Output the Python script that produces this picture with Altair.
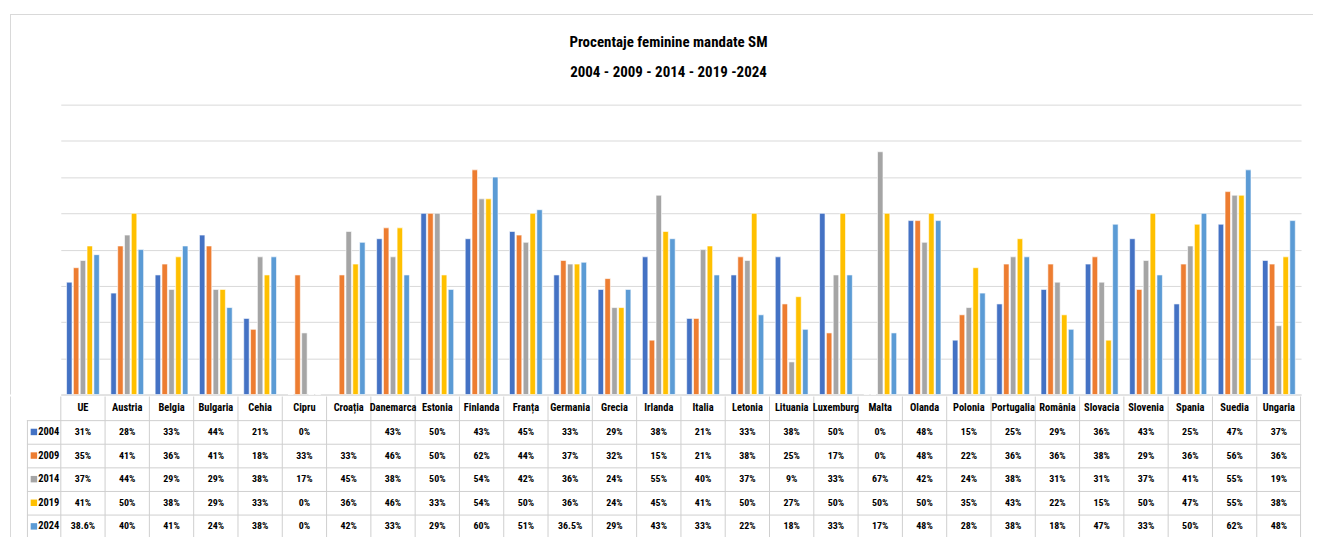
import altair as alt
import pandas as pd

countries = ["UE", "Austria", "Belgia", "Bulgaria", "Cehia", "Cipru", "Croația", "Danemarca",
             "Estonia", "Finlanda", "Franța", "Germania", "Grecia", "Irlanda", "Italia", "Letonia",
             "Lituania", "Luxemburg", "Malta", "Olanda", "Polonia", "Portugalia", "România",
             "Slovacia", "Slovenia", "Spania", "Suedia", "Ungaria"]
years = ["2004", "2009", "2014", "2019", "2024"]
v2004 = [31, 28, 33, 44, 21, 0, None, 43, 50, 43, 45, 33, 29, 38, 21, 33, 38, 50, 0, 48, 15, 25, 29, 36, 43, 25, 47, 37]
v2009 = [35, 41, 36, 41, 18, 33, 33, 46, 50, 62, 44, 37, 32, 15, 21, 38, 25, 17, 0, 48, 22, 36, 36, 38, 29, 36, 56, 36]
v2014 = [37, 44, 29, 29, 38, 17, 45, 38, 50, 54, 42, 36, 24, 55, 40, 37, 9, 33, 67, 42, 24, 38, 31, 31, 37, 41, 55, 19]
v2019 = [41, 50, 38, 29, 33, 0, 36, 46, 33, 54, 50, 36, 24, 45, 41, 50, 27, 50, 50, 50, 35, 43, 22, 15, 50, 47, 55, 38]
v2024 = [38.6, 40, 41, 24, 38, 0, 42, 33, 29, 60, 51, 36.5, 29, 43, 33, 22, 18, 33, 17, 48, 28, 38, 18, 47, 33, 50, 62, 48]
colors = ["#4472C4", "#ED7D31", "#A5A5A5", "#FFC000", "#5B9BD5"]
title_lines = ["Procentaje feminine mandate SM", "2004 - 2009 - 2014 - 2019 -2024"]

FONT = "Liberation Sans Narrow, Arial Narrow, Roboto Condensed, Liberation Sans, sans-serif"
GRID = "#D9D9D9"
TGRID = "#CFCFCF"
FRAME = "#D9D9D9"
W = 1245
H = 291
ROW = 23.7
LEFT = 34
FRAME_L = 51     # frame left edge, px left of plot
FRAME_T = 91     # frame top edge, px above plot
FRAME_R = 12     # frame extends right of plot


def fmt(v):
    if v is None:
        return ""
    if float(v).is_integer():
        return f"{int(v)}%"
    return f"{v}%"


rows = []
for yr, vals in zip(years, [v2004, v2009, v2014, v2019, v2024]):
    for c, v in zip(countries, vals):
        rows.append({"country": c, "year": yr, "value": v, "label": fmt(v)})
df = pd.DataFrame(rows)

hdr = pd.DataFrame({"country": countries, "year": ["hdr"] * len(countries), "label": countries})
row_domain = ["hdr"] + years
one = pd.DataFrame({"a": [0]})

xscale = alt.Scale(domain=countries, paddingInner=0.26, paddingOuter=0.13)

bar_layer = alt.Chart(df).mark_bar(stroke="white", strokeWidth=0.6).encode(
    x=alt.X("country:N", sort=countries, scale=xscale,
            axis=alt.Axis(title=None, labels=False, ticks=False, domain=True, domainColor=GRID, grid=False)),
    xOffset=alt.XOffset("year:N", sort=years, scale=alt.Scale(domain=years, paddingInner=0.2)),
    y=alt.Y("value:Q", scale=alt.Scale(domain=[0, 80]),
            axis=alt.Axis(title=None, labels=False, ticks=False, domain=False,
                          values=[0, 10, 20, 30, 40, 50, 60, 70, 80], grid=True, gridColor=GRID)),
    color=alt.Color("year:N", scale=alt.Scale(domain=years, range=colors), legend=None),
)
frame_top = alt.Chart(one).mark_rule(color=FRAME, yOffset=0.5).encode(
    x=alt.value(-FRAME_L), x2=alt.value(W + FRAME_R), y=alt.value(-FRAME_T))
frame_left1 = alt.Chart(one).mark_rule(color=FRAME, xOffset=0.5).encode(
    x=alt.value(-FRAME_L), y=alt.value(-FRAME_T), y2=alt.value(H))
title1 = alt.Chart(pd.DataFrame({"t": [title_lines[0]]})).mark_text(
    font=FONT, fontSize=15, fontWeight="bold", color="black", align="center", baseline="middle").encode(
    x=alt.value(610), y=alt.value(-63), text="t:N")
title2 = alt.Chart(pd.DataFrame({"t": [title_lines[1]]})).mark_text(
    font=FONT, fontSize=15, fontWeight="bold", color="black", align="center", baseline="middle").encode(
    x=alt.value(610), y=alt.value(-33), text="t:N")
bars = alt.layer(bar_layer, frame_top, frame_left1, title1, title2).properties(width=W, height=H)

tscale_x = alt.Scale(domain=countries, paddingInner=0, paddingOuter=0)
tscale_y = alt.Scale(domain=row_domain, paddingInner=0, paddingOuter=0)
noaxis = alt.Axis(title=None, labels=False, ticks=False, domain=False, grid=False)
tx = alt.X("country:N", sort=countries, scale=tscale_x, axis=noaxis)
ty = alt.Y("year:N", scale=tscale_y, axis=noaxis)

head_text = alt.Chart(hdr).mark_text(font=FONT, fontSize=10.5, fontWeight="bold", color="black").encode(
    x=tx, y=ty, text="label:N")
val_text = alt.Chart(df).mark_text(font=FONT, fontSize=10, fontWeight="bold", color="black").encode(
    x=tx, y=ty, text="label:N")

yrdf = pd.DataFrame({"year": years})
swatch = alt.Chart(yrdf).mark_square(size=42, opacity=1).encode(
    x=alt.value(-27), y=ty,
    color=alt.Color("year:N", scale=alt.Scale(domain=years, range=colors), legend=None))
yrlab = alt.Chart(yrdf).mark_text(font=FONT, fontSize=10.5, fontWeight="bold", color="black").encode(
    x=alt.value(-12), y=ty, text="year:N")

# table borders
cdf = pd.DataFrame({"country": countries})
vlines = alt.Chart(cdf).mark_rule(color=TGRID).encode(
    x=alt.X("country:N", sort=countries, scale=tscale_x, axis=noaxis, bandPosition=0),
    y=alt.value(0), y2=alt.value(ROW * 6))
hlines = alt.Chart(yrdf).mark_rule(color=TGRID, yOffset=0.5).encode(
    x=alt.value(-LEFT), x2=alt.value(W),
    y=alt.Y("year:N", bandPosition=0, scale=tscale_y, axis=noaxis))
bottom = alt.Chart(pd.DataFrame({"year": ["2024"]})).mark_rule(color=TGRID, yOffset=-0.5).encode(
    x=alt.value(-LEFT), x2=alt.value(W),
    y=alt.Y("year:N", bandPosition=1, scale=tscale_y, axis=noaxis))
right = alt.Chart(one).mark_rule(color=TGRID, xOffset=-0.5).encode(
    x=alt.value(W), y=alt.value(0), y2=alt.value(ROW * 6))
leftline = alt.Chart(one).mark_rule(color=TGRID, xOffset=0.5).encode(
    x=alt.value(-LEFT), y=alt.value(ROW), y2=alt.value(ROW * 6))
frame_left2 = alt.Chart(one).mark_rule(color=FRAME, xOffset=0.5).encode(
    x=alt.value(-FRAME_L), y=alt.value(0), y2=alt.value(ROW * 6))

table = alt.layer(vlines, hlines, bottom, right, leftline, frame_left2,
                  head_text, val_text, swatch, yrlab).properties(width=W, height=ROW * 6)

chart = alt.vconcat(bars, table, spacing=0).properties(
    padding={"left": 1, "top": 4, "right": 0, "bottom": 0},
).configure_view(strokeWidth=0)

chart.save("out.html", embed_options={"renderer": "svg", "actions": False})
